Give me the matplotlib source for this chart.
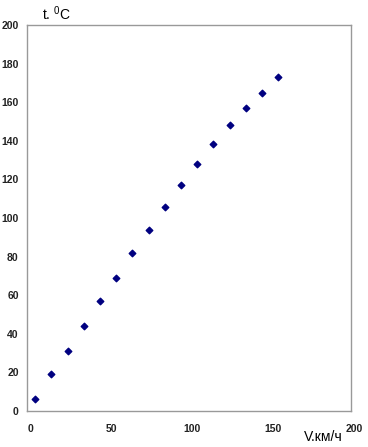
import matplotlib
matplotlib.use('Agg')
import matplotlib.pyplot as plt
import matplotlib.transforms as mtransforms

# speed (km/h) vs temperature (deg C)
speed = [5, 15, 25, 35, 45, 55, 65, 75, 85, 95, 105, 115, 125, 135, 145, 155]
temp = [6, 19, 31, 44, 57, 69, 82, 94, 105.5, 117, 128, 138.5, 148, 157, 165, 173]
x_ticks = [0, 50, 100, 150, 200]
y_ticks = [0, 20, 40, 60, 80, 100, 120, 140, 160, 180, 200]

plt.rcParams['font.family'] = ['Liberation Sans', 'DejaVu Sans']
plt.rcParams['mathtext.fontset'] = 'custom'
plt.rcParams['mathtext.rm'] = 'Liberation Sans'
plt.rcParams['mathtext.it'] = 'Liberation Sans'

fig = plt.figure(figsize=(3.68, 4.47), dpi=100)
ax = fig.add_axes([0.0734, 0.0805, 0.8806, 0.8635])

ax.scatter(speed, temp, marker='D', s=11, color='#000080', zorder=3)

ax.set_xlim(0, 200)
ax.set_ylim(0, 200)
ax.set_xticks(x_ticks)
ax.set_yticks(y_ticks)
ax.tick_params(labelsize=7.5, length=0)
ax.tick_params(axis='y', pad=6)
ax.tick_params(axis='x', pad=9)
for lab in ax.get_xticklabels() + ax.get_yticklabels():
    lab.set_fontweight('bold')
    lab.set_color('#222222')
# nudge x labels a bit to the right, like the original
shift = mtransforms.ScaledTranslation(3 / 100, 0, fig.dpi_scale_trans)
for lab in ax.get_xticklabels():
    lab.set_transform(lab.get_transform() + shift)
for sp in ax.spines.values():
    sp.set_color('#999999')
    sp.set_linewidth(1)

fig.text(0.115, 0.970, r't. $^{0}$C', fontsize=10, va='center', ha='left')
fig.text(0.932, 0.022, 'V.км/ч', fontsize=10, va='center', ha='right')

fig.savefig('out.png', dpi=100)
